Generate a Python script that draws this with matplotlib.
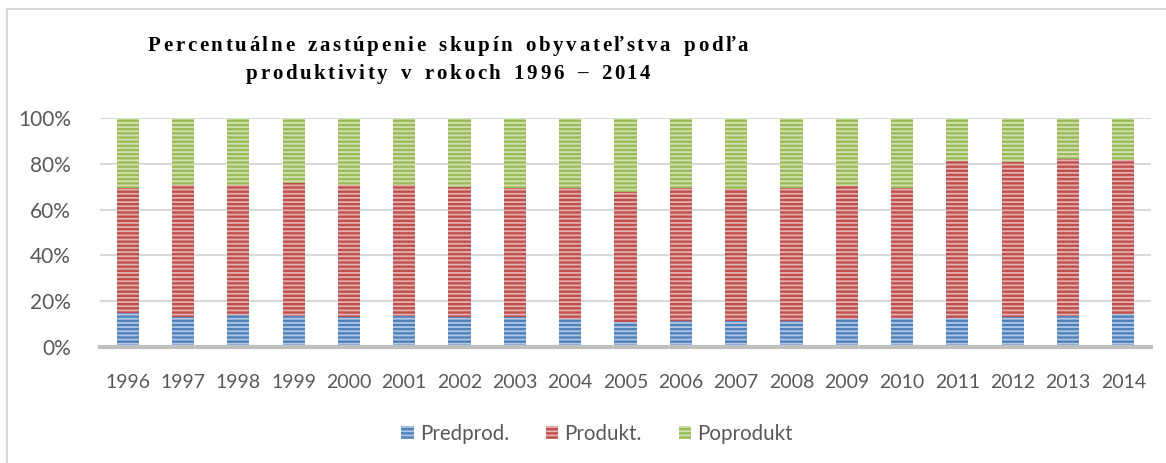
import numpy as np
import matplotlib
matplotlib.use('Agg')
import matplotlib.pyplot as plt
from matplotlib.patches import Rectangle

years = ['1996', '1997', '1998', '1999', '2000', '2001', '2002', '2003', '2004', '2005',
         '2006', '2007', '2008', '2009', '2010', '2011', '2012', '2013', '2014']

# shares in %
predprod = [14.6, 13.1, 13.9, 13.4, 13.1, 13.4, 12.8, 12.8, 12.1, 10.9,
            11.2, 11.2, 11.2, 12.1, 12.4, 12.4, 13.1, 13.6, 14.3]
produkt = [54.7, 57.6, 57.1, 58.1, 57.9, 57.3, 57.2, 56.8, 57.5, 56.9,
           58.1, 57.8, 58.1, 58.2, 57.3, 69.0, 67.7, 68.4, 67.4]
poprodukt = [30.7, 29.3, 29.0, 28.5, 29.0, 29.3, 30.0, 30.4, 30.4, 32.2,
             30.7, 31.0, 30.7, 29.7, 30.3, 18.6, 19.2, 18.0, 18.3]

series = ['Predprod.', 'Produkt.', 'Poprodukt']
colors = ['#4F81BD', '#C0504D', '#9BBB59']
title1 = 'Percentuálne zastúpenie skupín obyvateľstva podľa'
title2 = 'produktivity v rokoch 1996 – 2014'

plt.rcParams['hatch.linewidth'] = 1.3
plt.rcParams['font.family'] = ['Lato', 'DejaVu Sans']

W, H = 1166, 463
fig = plt.figure(figsize=(W / 100, H / 100), dpi=100)
ax = fig.add_axes([100 / W, 116.3 / H, 1051 / W, 228.4 / H])

# chart frame
fig.patches.append(Rectangle((7 / W, -0.1), 1.2, (H - 9) / H + 0.1,
                             transform=fig.transFigure, fill=False,
                             edgecolor='#D9D9D9', linewidth=1.5))

x = np.arange(len(years))
tot = np.array(predprod) + np.array(produkt) + np.array(poprodukt)
bottom = np.zeros(len(years))
for name, vals, c in zip(series, [predprod, produkt, poprodukt], colors):
    v = np.array(vals) / tot
    ax.bar(x, v, 0.4, bottom=bottom, color=c, edgecolor=(1, 1, 1, 0.55),
           linewidth=0, hatch='----', label=name, zorder=2)
    bottom += v

ax.set_xlim(-0.5, len(years) - 0.5)
ax.set_ylim(0, 1)
ax.set_yticks([0, 0.2, 0.4, 0.6, 0.8, 1.0])
ax.set_yticklabels(['0%', '20%', '40%', '60%', '80%', '100%'])
ax.set_xticks(x)
ax.set_xticklabels(years)
ax.tick_params(length=0, labelsize=14, labelcolor='#595959')
ax.tick_params(axis='y', labelsize=15, pad=21)
ax.tick_params(axis='x', pad=20)
ax.grid(axis='y', color='#D9D9D9', linewidth=1.5, zorder=0)
for s in ['top', 'right', 'left']:
    ax.spines[s].set_visible(False)
ax.spines['bottom'].set_color('#BFBFBF')
ax.spines['bottom'].set_linewidth(3)
ax.spines['bottom'].set_zorder(3)

# title with expanded letter spacing: place chars one by one
renderer = fig.canvas.get_renderer()
FAM = ['Liberation Serif', 'DejaVu Serif']
TSIZE = 15

def char_widths(s):
    widths = []
    for ch in s:
        t = fig.text(0, 0, ch if ch != ' ' else 'n', fontsize=TSIZE, fontweight='bold', family=FAM)
        w = t.get_window_extent(renderer).width
        widths.append(w * 0.7 if ch == ' ' else w)
        t.remove()
    return widths

def spaced_text(s, xc, ybase, track):
    widths = char_widths(s)
    pos = xc - (sum(widths) + track * (len(s) - 1)) / 2
    for ch, w in zip(s, widths):
        if ch != ' ':
            fig.text(pos / W, 1 - ybase / H, ch, fontsize=TSIZE, fontweight='bold',
                     family=FAM, va='baseline', ha='left')
        pos += w + track

w1 = char_widths(title1)
track = ((748 - 148) - sum(w1)) / (len(title1) - 1)
spaced_text(title1, 448, 51, track)
spaced_text(title2, 448, 79, track)

leg = fig.legend(loc='center', bbox_to_anchor=(597 / W, 1 - 434 / H), ncol=3,
                 frameon=False, fontsize=14.8, handlelength=0.6, handleheight=0.6,
                 handletextpad=0.3, columnspacing=1.8)
for t in leg.get_texts():
    t.set_color('#595959')

fig.savefig('out.png', dpi=100)
